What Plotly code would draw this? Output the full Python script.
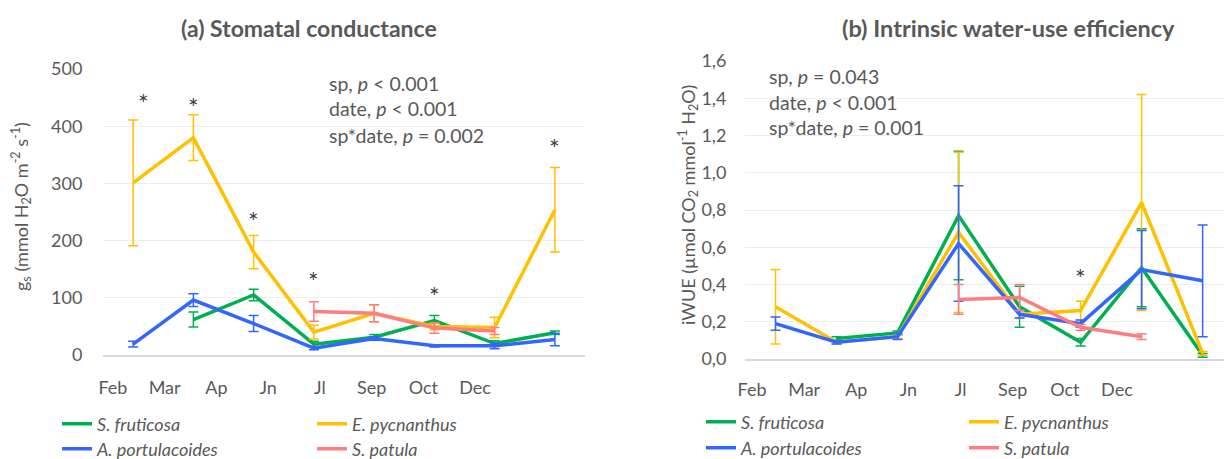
import plotly.graph_objects as go

W, H = 1224, 459
FONT = "Lato"
TXT = "#595959"

months = ["Feb", "Mar", "Ap", "Jn", "Jl", "Sep", "Oct", "Dec"]
species = ["S. fruticosa", "E. pycnanthus", "A. portulacoides", "S. patula"]
colors = ["#00B050", "#FFC000", "#3366FF", "#FF7C80"]

# (a) stomatal conductance, mmol H2O m-2 s-1
gs_fruticosa = [None, 62, 105, 19, 31, 60, 20, 39]
gs_fruticosa_se = [None, 13, 10, 5, 5, 9, 5, 3]
gs_pycnanthus = [301, 380, 180, 40, 73, 50, 48, 254]
gs_pycnanthus_se = [110, 40, 29, 12, 15, 6, 18, 74]
gs_portulacoides = [19, 96, 55, 12, 29, 16, 16, 27]
gs_portulacoides_se = [5, 11, 14, 3, 3, 2, 5, 11]
gs_patula = [None, None, None, 76, 73, 47, 42, None]
gs_patula_se = [None, None, None, 17, 15, 9, 6, None]

# (b) intrinsic water-use efficiency
wue_fruticosa = [None, 0.11, 0.14, 0.77, 0.28, 0.09, 0.49, 0.02]
wue_fruticosa_se = [None, 0.01, 0.01, 0.345, 0.11, 0.02, 0.21, 0.01]
wue_pycnanthus = [0.28, 0.09, 0.12, 0.68, 0.24, 0.26, 0.84, 0.03]
wue_pycnanthus_se = [0.20, 0.01, 0.01, 0.43, 0.02, 0.05, 0.58, 0.01]
wue_portulacoides = [0.19, 0.09, 0.12, 0.62, 0.24, 0.19, 0.48, 0.42]
wue_portulacoides_se = [0.035, 0.01, 0.015, 0.31, 0.02, 0.02, 0.21, 0.30]
wue_patula = [None, None, None, 0.32, 0.33, 0.17, 0.12, None]
wue_patula_se = [None, None, None, 0.08, 0.07, 0.015, 0.015, None]

sig_gs_months = ["Feb", "Mar", "Ap", "Jn", "Sep", "Dec"]
sig_gs_y = [449, 443, 243, 138, 112, 370]
sig_wue_months = ["Sep"]
sig_wue_y = [0.463]

stats_gs = ["sp, <i>p</i> &lt; 0.001", "date, <i>p</i> &lt; 0.001", "sp*date, <i>p</i> = 0.002"]
stats_wue = ["sp, <i>p</i> = 0.043", "date, <i>p</i> &lt; 0.001", "sp*date, <i>p</i> = 0.001"]

gs_series = [(gs_fruticosa, gs_fruticosa_se), (gs_pycnanthus, gs_pycnanthus_se),
             (gs_portulacoides, gs_portulacoides_se), (gs_patula, gs_patula_se)]
wue_series = [(wue_fruticosa, wue_fruticosa_se), (wue_pycnanthus, wue_pycnanthus_se),
              (wue_portulacoides, wue_portulacoides_se), (wue_patula, wue_patula_se)]

def px(x):
    return x / W

def py(y):
    return 1 - y / H

fig = go.Figure()

# legend rows: row1 = fruticosa, pycnanthus ; row2 = portulacoides, patula
left_rows = ["legend", "legend", "legend2", "legend2"]
right_rows = ["legend3", "legend3", "legend4", "legend4"]

for i, (vals, se) in enumerate(gs_series):
    fig.add_trace(go.Scatter(
        x=months, y=vals, name=species[i], mode="lines",
        line=dict(color=colors[i], width=3.5),
        error_y=dict(type="data", array=se, visible=True, color=colors[i], thickness=1.5, width=5),
        xaxis="x", yaxis="y", legend=left_rows[i], connectgaps=False))

for i, (vals, se) in enumerate(wue_series):
    fig.add_trace(go.Scatter(
        x=months, y=vals, name=species[i], mode="lines",
        line=dict(color=colors[i], width=3.5),
        error_y=dict(type="data", array=se, visible=True, color=colors[i], thickness=1.5, width=5),
        xaxis="x2", yaxis="y2", legend=right_rows[i], connectgaps=False))

# empty traces so the month-label axes (own hidden y axes) are drawn
fig.add_trace(go.Scatter(x=[], y=[], xaxis="x3", yaxis="y3", showlegend=False, hoverinfo="skip"))
fig.add_trace(go.Scatter(x=[], y=[], xaxis="x4", yaxis="y4", showlegend=False, hoverinfo="skip"))

axis_common = dict(
    showgrid=False, zeroline=False, showline=False,
    tickfont=dict(family=FONT, size=18, color=TXT),
    ticks="outside", tickcolor="rgba(0,0,0,0)",
)

label_axis = dict(axis_common, range=[-0.5, 7.5], tickvals=list(range(len(months))),
                  ticktext=months, ticklen=16, fixedrange=True)

fig.update_layout(
    width=W, height=H, autosize=False,
    margin=dict(l=0, r=0, t=0, b=0, autoexpand=False),
    paper_bgcolor="white", plot_bgcolor="rgba(0,0,0,0)",
    separators=",.",
    xaxis=dict(axis_common, type="category", domain=[px(103), px(585)], range=[-0.5, 7.5],
               anchor="y", showticklabels=False, showline=True, linecolor="#D9D9D9", linewidth=1.5),
    yaxis=dict(axis_common, domain=[py(355), py(69)], range=[0, 500], anchor="x",
               tickvals=[0, 100, 200, 300, 400, 500], ticklen=16,
               showgrid=True, gridcolor="#EDEDED", gridwidth=1.3),
    xaxis2=dict(axis_common, type="category", domain=[px(745), 1.0], range=[-0.5, 7.35],
                anchor="y2", showticklabels=False, showline=True, linecolor="#D9D9D9", linewidth=1.5),
    yaxis2=dict(axis_common, domain=[py(359), py(61)], range=[0, 1.6], anchor="x2",
                tickvals=[0, 0.2, 0.4, 0.6, 0.8, 1.0, 1.2, 1.4, 1.6], tickformat=".1f",
                ticklen=14, showgrid=True, gridcolor="#EDEDED", gridwidth=1.3),
    xaxis3=dict(label_axis, domain=[px(87), px(501)], anchor="y3"),
    yaxis3=dict(domain=[py(355), py(69)], range=[0, 1], anchor="x3", visible=False, fixedrange=True),
    xaxis4=dict(label_axis, domain=[px(726), px(1143)], anchor="y4", ticklen=14),
    yaxis4=dict(domain=[py(359), py(61)], range=[0, 1], anchor="x4", visible=False, fixedrange=True),
)

leg_common = dict(orientation="h", xanchor="left", yanchor="middle",
                  font=dict(family=FONT, size=18, color=TXT, style="italic"),
                  entrywidthmode="pixels", bgcolor="rgba(0,0,0,0)",
                  itemwidth=30, tracegroupgap=0)
fig.update_layout(
    legend=dict(leg_common, x=px(57), y=py(424), entrywidth=210),
    legend2=dict(leg_common, x=px(57), y=py(449), entrywidth=210),
    legend3=dict(leg_common, x=px(701), y=py(422), entrywidth=218),
    legend4=dict(leg_common, x=px(701), y=py(448), entrywidth=218),
)

ann = []
ann.append(dict(text="<b>(a) Stomatal conductance</b>", x=px(309), y=py(28), xref="paper", yref="paper",
                showarrow=False, font=dict(family=FONT, size=23, color=TXT), xanchor="center", yanchor="middle"))
ann.append(dict(text="<b>(b) Intrinsic water-use efficiency</b>", x=px(1008), y=py(28), xref="paper", yref="paper",
                showarrow=False, font=dict(family=FONT, size=23.5, color=TXT), xanchor="center", yanchor="middle"))
ann.append(dict(text="g<sub>s</sub> (mmol H<sub>2</sub>O m<sup>-2</sup> s<sup>-1</sup>)", x=px(21), y=py(207),
                xref="paper", yref="paper", textangle=-90, showarrow=False,
                font=dict(family=FONT, size=18, color=TXT), xanchor="center", yanchor="middle"))
ann.append(dict(text="iWUE (µmol CO<sub>2</sub> mmol<sup>-1</sup> H<sub>2</sub>O)", x=px(688), y=py(205),
                xref="paper", yref="paper", textangle=-90, showarrow=False,
                font=dict(family=FONT, size=18, color=TXT), xanchor="center", yanchor="middle"))
for k, t in enumerate(stats_gs):
    ann.append(dict(text=t, x=px(327), y=py(83 + 26 * k), xref="paper", yref="paper", showarrow=False,
                    font=dict(family=FONT, size=19.5, color=TXT), xanchor="left", yanchor="middle"))
for k, t in enumerate(stats_wue):
    ann.append(dict(text=t, x=px(767), y=py(76 + 26 * k), xref="paper", yref="paper", showarrow=False,
                    font=dict(family=FONT, size=19.5, color=TXT), xanchor="left", yanchor="middle"))
for m, v in zip(sig_gs_months, sig_gs_y):
    ann.append(dict(text="*", x=m, y=v, xref="x", yref="y", showarrow=False,
                    xshift=10 if m == "Feb" else 0, yshift=-5,
                    font=dict(family=FONT, size=25, color="#404040"), xanchor="center", yanchor="middle"))
for m, v in zip(sig_wue_months, sig_wue_y):
    ann.append(dict(text="*", x=m, y=v, xref="x2", yref="y2", showarrow=False, yshift=-5,
                    font=dict(family=FONT, size=25, color="#404040"), xanchor="center", yanchor="middle"))
fig.update_layout(annotations=ann)

fig.write_html("out.html")
